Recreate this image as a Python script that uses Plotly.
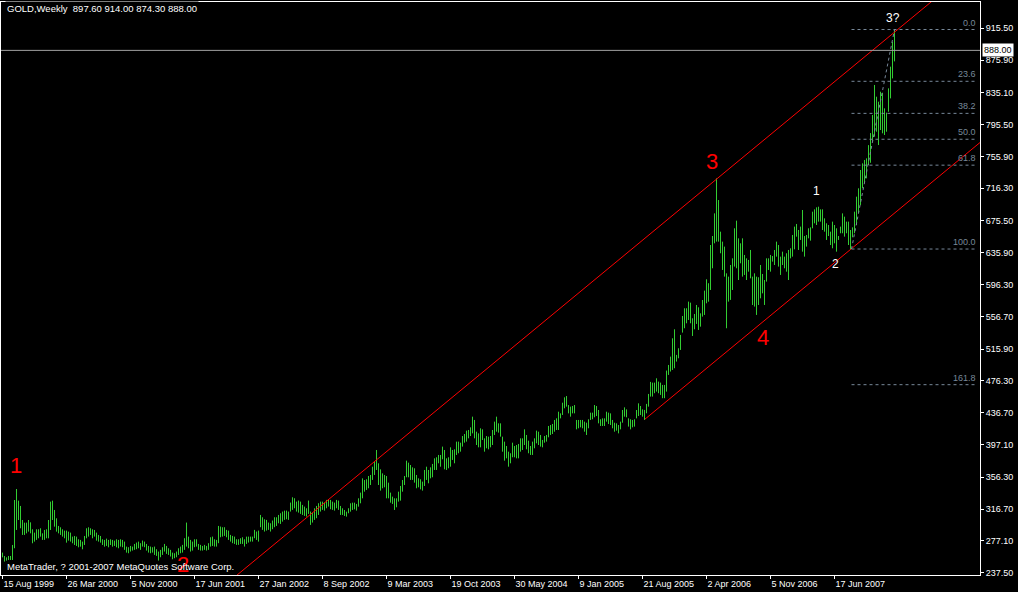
import plotly.graph_objects as go

# ---------------- data (weekly GOLD bars) ----------------
highs = [
    262.5, 258.3, 256.6, 258.3, 258.3, 272.0, 328.0, 341.7, 327.2, 320.6,
    303.1, 299.8, 299.8, 303.1, 300.2, 291.5, 287.4, 291.5, 291.5, 292.8,
    286.5, 290.7, 291.5, 303.1, 326.0, 327.2, 315.6, 305.2, 295.7, 294.0,
    291.5, 289.9, 289.9, 288.6, 287.4, 282.4, 283.2, 282.4, 279.1, 278.3,
    276.2, 283.2, 292.8, 294.0, 292.8, 291.5, 290.7, 287.4, 284.5, 283.2,
    279.1, 278.3, 279.9, 278.3, 279.1, 278.3, 277.4, 279.1,
    278.3, 279.1, 278.3, 276.2, 270.0, 269.2, 270.8, 270.0, 273.3, 275.0,
    276.2, 274.2, 277.5, 276.2, 273.3, 270.8, 270.0, 269.2, 270.0, 266.7,
    263.8, 265.9, 269.2, 273.3, 270.8, 267.9, 265.9, 262.5, 261.7, 263.8,
    267.9, 270.0, 272.1, 280.4, 299.9, 282.4, 278.3, 276.2, 279.1, 279.1,
    273.3, 272.1, 270.8, 272.1, 270.8, 274.2, 281.6, 282.4, 279.1, 278.3,
    295.7, 294.9, 294.1, 294.1, 290.8, 289.9, 284.5, 283.3, 282.4, 279.1,
    279.1, 280.4, 281.6, 279.1, 282.4, 282.4, 282.4, 282.4, 290.8, 288.7,
    289.9, 309.4, 306.5, 304.0, 303.2, 299.9, 299.0, 302.4, 306.5, 306.5,
    309.4, 311.5, 313.6, 314.8, 314.8, 313.6, 324.8, 331.4, 330.2, 326.0,
    327.3, 326.0, 321.9, 319.8, 317.7, 327.3, 313.6, 312.3, 317.7, 320.6,
    324.0, 326.0, 326.0, 324.8, 328.1, 328.9, 328.1, 326.0, 324.8, 328.1,
    327.3,
    320.6, 317.7, 315.6, 313.5, 317.7, 323.9, 324.7, 324.7, 323.1, 330.1,
    337.2, 355.0, 352.9, 353.8, 357.9, 359.2, 369.5, 375.8, 390.3, 373.7,
    366.2, 361.2, 359.2, 357.9, 349.6, 337.2, 332.2, 330.1, 330.1, 338.4,
    345.5, 352.9, 357.9, 377.0, 374.5, 371.6, 368.7, 367.5, 359.2, 355.0,
    353.8, 350.9, 365.4, 369.5, 365.4, 368.7, 372.9, 379.9, 381.2, 384.1,
    384.1, 394.5, 390.3, 379.9, 381.2, 393.6, 390.3, 391.1, 400.7, 400.7,
    399.4, 407.7, 410.2, 414.4, 415.2, 418.5, 431.8, 427.7, 413.1, 411.0,
    417.3, 416.0, 404.8, 407.7, 406.9, 407.7, 415.2, 425.6, 431.8, 423.5,
    423.5, 406.9, 400.7, 395.3, 388.2, 386.2, 399.4, 395.3, 396.5, 397.8,
    404.8, 404.8, 416.0, 409.0, 401.9, 395.3, 400.7, 404.8, 414.4, 413.1,
    409.0, 402.8, 407.7, 409.0, 420.2, 421.4, 422.7, 427.7, 429.7, 438.0,
    435.9, 449.2, 455.9, 457.5, 446.3, 444.3, 445.1, 446.3, 427.7, 427.7,
    427.7, 427.7, 425.6, 424.3, 428.5, 436.8, 436.8, 446.3, 445.1, 440.1,
    428.5, 429.7, 429.7, 438.0, 436.8, 435.9, 427.7, 424.3, 423.5, 421.4,
    425.6, 440.1, 443.4, 440.9, 429.7, 428.5, 427.7, 428.5, 440.1, 448.4,
    445.1, 440.9,
    440.2, 447.7, 460.1, 475.1, 474.2, 474.2, 479.6, 475.5, 474.2, 471.3,
    471.3, 489.2, 496.2, 506.6, 529.4, 540.6, 508.7, 517.0, 533.6, 557.2,
    566.8, 566.8, 575.1, 573.8, 554.3, 559.7, 570.9, 568.0, 560.5, 577.1,
    588.8, 602.9,
    598.0, 645.6, 656.8, 685.0, 728.6, 701.6, 662.2, 649.8, 643.6, 610.3,
    606.2, 620.7, 629.0, 666.4, 675.9, 653.9, 647.7, 653.9, 633.2, 629.0,
    627.0, 639.4, 606.2, 610.3, 606.2, 605.4, 620.7, 609.5, 602.0, 629.0,
    629.0, 633.2, 631.9, 639.4, 649.8, 645.6, 631.1, 637.3, 631.1, 635.3,
    639.4, 641.5, 658.1, 668.5, 671.8, 664.3, 668.5, 689.2, 656.8, 658.1,
    666.4, 667.6, 687.1, 690.0, 692.5, 693.3, 690.0, 690.0, 678.8, 672.6,
    670.5, 662.2, 674.7, 670.5, 666.4, 656.8, 668.5, 685.0, 680.9, 674.7,
    674.7, 664.3, 667.6, 687.1, 705.8, 716.2, 739.0, 747.3, 751.5, 753.5,
    770.0, 785.0,
    807.5, 844.9, 830.3, 824.1, 836.5, 835.3, 815.8, 810.4, 840.7, 867.7,
    898.8, 914.0,
]
lows = [
    256.6, 251.3, 252.5, 253.3, 253.3, 253.3, 267.9, 290.7, 303.1, 292.8,
    284.5, 284.5, 286.5, 288.6, 286.5, 274.1, 276.2, 278.3, 280.3, 282.4,
    278.3, 278.3, 280.3, 280.3, 290.7, 303.1, 294.8, 288.6, 286.5, 284.5,
    282.4, 280.3, 274.9, 277.4, 276.2, 274.1, 272.0, 270.8, 269.1, 269.9,
    266.6, 272.0, 280.3, 282.4, 284.5, 280.3, 282.4, 277.4, 276.2, 274.9,
    272.0, 269.9, 270.8, 269.1, 272.0, 269.9, 270.8, 269.1,
    267.9, 270.0, 269.2, 265.9, 262.5, 261.7, 263.8, 265.0, 265.9, 266.7,
    267.9, 265.9, 270.0, 269.2, 265.0, 262.5, 261.7, 262.5, 259.6, 258.4,
    252.6, 256.7, 259.6, 263.8, 260.9, 259.6, 257.6, 254.2, 255.5, 256.7,
    259.6, 261.7, 262.5, 265.9, 270.0, 267.9, 263.8, 265.0, 269.2, 270.0,
    265.9, 265.0, 265.0, 265.9, 265.0, 265.9, 270.0, 270.8, 270.0, 270.0,
    274.2, 281.6, 282.4, 283.3, 281.6, 278.3, 276.2, 274.2, 273.3, 272.1,
    272.1, 273.3, 273.3, 270.0, 273.3, 275.0, 276.2, 276.2, 280.4, 278.3,
    276.2, 294.1, 290.8, 288.7, 289.9, 290.8, 288.7, 291.6, 294.1, 295.7,
    299.0, 298.2, 301.1, 303.2, 304.0, 303.2, 313.6, 315.7, 317.7, 313.6,
    312.3, 310.7, 309.4, 308.2, 307.4, 310.7, 297.0, 299.9, 303.2, 305.3,
    309.4, 313.6, 315.7, 314.8, 317.7, 319.8, 316.5, 315.7, 314.8, 317.7,
    315.7,
    309.4, 309.4, 308.1, 307.3, 311.5, 313.5, 315.6, 316.4, 314.8, 319.7,
    323.9, 330.1, 338.4, 340.5, 342.6, 346.7, 353.0, 359.2, 365.4, 346.7,
    339.7, 342.6, 343.8, 330.1, 330.1, 324.7, 323.1, 315.6, 318.9, 326.0,
    327.2, 338.4, 346.7, 356.3, 356.3, 353.0, 353.0, 349.6, 342.6, 343.8,
    341.3, 339.7, 345.5, 353.0, 348.8, 355.0, 356.3, 365.4, 365.4, 373.7,
    369.5, 378.7, 366.2, 365.4, 367.5, 369.5, 377.9, 373.7, 384.1, 386.2,
    388.2, 394.5, 399.4, 400.7, 404.8, 407.7, 411.0, 404.8, 396.5, 393.6,
    393.6, 402.7, 388.2, 392.4, 391.1, 393.6, 396.5, 409.0, 413.1, 411.9,
    406.9, 388.2, 377.0, 379.9, 369.5, 373.7, 381.2, 381.2, 379.9, 379.9,
    388.2, 390.3, 396.5, 391.1, 386.2, 384.1, 384.1, 392.4, 398.6, 396.5,
    394.5, 393.6, 399.4, 400.7, 406.1, 409.0, 410.2, 413.1, 415.2, 415.2,
    429.7, 433.9, 442.2, 444.3, 435.9, 431.8, 435.9, 435.9, 416.0, 417.3,
    418.5, 417.3, 413.1, 409.0, 417.3, 427.7, 428.5, 431.0, 432.6, 423.5,
    420.2, 420.2, 420.2, 425.6, 422.7, 421.4, 417.3, 413.1, 414.4, 411.0,
    416.0, 424.3, 431.8, 431.0, 419.4, 416.0, 418.5, 419.4, 429.7, 432.6,
    433.9, 431.8,
    427.7, 436.0, 444.3, 456.8, 456.8, 461.0, 463.0, 461.0, 458.9, 454.8,
    454.8, 463.0, 483.8, 488.0, 490.0, 492.1, 500.4, 504.5, 514.9, 536.5,
    541.9, 548.1, 552.2, 548.1, 532.3, 540.6, 547.3, 539.8, 543.9, 556.4,
    558.5, 573.0,
    575.0, 589.6, 616.6, 647.7, 649.8, 649.8, 635.3, 614.5, 606.2, 541.9,
    575.1, 577.2, 589.6, 618.7, 616.6, 602.0, 622.8, 606.2, 608.3, 602.0,
    612.4, 604.1, 570.9, 568.9, 558.5, 570.9, 579.2, 585.4, 570.9, 600.0,
    614.5, 612.4, 624.9, 620.7, 631.1, 618.7, 608.3, 620.7, 616.6, 612.4,
    602.0, 629.0, 631.1, 640.2, 656.0, 639.4, 651.9, 637.3, 631.1, 643.6,
    653.9, 651.0, 666.4, 672.6, 670.5, 674.7, 674.7, 664.3, 662.2, 651.9,
    656.8, 645.6, 641.5, 647.7, 637.3, 651.9, 660.2, 660.2, 656.0, 660.2,
    645.6, 640.2, 655.2, 660.2, 670.5, 685.0, 695.4, 716.2, 722.4, 728.6,
    745.2, 748.0,
    774.3, 780.5, 786.7, 770.1, 788.8, 784.7, 782.6, 786.7, 811.6, 828.2,
    853.1, 874.3,
]

date_labels = ["15 Aug 1999", "26 Mar 2000", "5 Nov 2000", "17 Jun 2001",
               "27 Jan 2002", "8 Sep 2002", "9 Mar 2003", "19 Oct 2003",
               "30 May 2004", "9 Jan 2005", "21 Aug 2005", "2 Apr 2006",
               "5 Nov 2006", "17 Jun 2007"]
bars_per_label = 32

price_ticks = [237.5, 277.1, 316.7, 356.3, 397.1, 436.7, 476.3, 515.9, 556.7,
               596.3, 635.9, 675.5, 716.3, 755.9, 795.5, 835.1, 875.9, 915.5]

last_ohlc = [897.60, 914.00, 874.30, 888.00]

# channel (equidistant) anchors: (bar index, price)
channel_upper = [(100.0, 199.0), (490.0, 1001.2)]
channel_lower = [(321.2, 428.6), (490.0, 775.8)]

# fibonacci retracement
fib_high = 914.0
fib_low = 640.6
fib_start_bar = 424.5
fib_high_bar = 446.0
fib_end_bar = 487.5
fib_levels = [0.0, 23.6, 38.2, 50.0, 61.8, 100.0, 161.8]

# wave labels: (text, bar index, price)
big_labels = [("1", 6.5, 371.6), ("2", 90.0, 247.1), ("3", 354.5, 750.2), ("4", 380.0, 529.8)]
small_labels = [("1", 407.0, 712.9), ("2", 416.5, 622.0), ("3?", 445.0, 928.3)]

# ---------------- figure ----------------
assert len(highs) == len(lows)
n = len(highs)
FONT = "Liberation Sans, Arial, sans-serif"

xs, ys = [], []
for i in range(n):
    xs += [i, i, None]
    ys += [lows[i], highs[i], None]

fig = go.Figure()

fig.add_trace(go.Scatter(x=xs, y=ys, mode="lines",
                         line=dict(color="#32cd32", width=1),
                         hoverinfo="skip", showlegend=False))

# channel lines
for seg in (channel_upper, channel_lower):
    fig.add_trace(go.Scatter(x=[seg[0][0], seg[1][0]], y=[seg[0][1], seg[1][1]],
                             mode="lines", line=dict(color="#ff0000", width=1),
                             hoverinfo="skip", showlegend=False))

# fib lines
fib_color = "#778899"
for lv in fib_levels:
    p = fib_high - lv / 100.0 * (fib_high - fib_low)
    fig.add_trace(go.Scatter(x=[fib_start_bar, fib_end_bar], y=[p, p], mode="lines",
                             line=dict(color=fib_color, width=1, dash="3px,3px"),
                             hoverinfo="skip", showlegend=False))
    fig.add_annotation(x=fib_end_bar, y=p, xref="x", yref="y", text=f"{lv:.1f}",
                       showarrow=False, xanchor="right", yanchor="bottom",
                       font=dict(family=FONT, size=9, color=fib_color))
fig.add_trace(go.Scatter(x=[fib_start_bar, fib_high_bar], y=[fib_low, fib_high], mode="lines",
                         line=dict(color=fib_color, width=1, dash="3px,3px"),
                         hoverinfo="skip", showlegend=False))

# current price line
fig.add_shape(type="line", xref="paper", x0=0, x1=1, yref="y", y0=last_ohlc[3], y1=last_ohlc[3],
              line=dict(color="#a0a0a0", width=1))
fig.add_annotation(xref="paper", x=1, y=last_ohlc[3], yref="y", text=f"{last_ohlc[3]:.2f}",
                   showarrow=False, xanchor="left", xshift=2, bgcolor="#ffffff",
                   font=dict(family=FONT, size=9, color="#000000"), borderpad=1)

for t, bx, py in big_labels:
    fig.add_annotation(x=bx, y=py, text=t, showarrow=False,
                       font=dict(family=FONT, size=22, color="#ff0000"))
for t, bx, py in small_labels:
    fig.add_annotation(x=bx, y=py, text=t, showarrow=False,
                       font=dict(family=FONT, size=12, color="#ffffff"))

fig.add_annotation(xref="paper", yref="paper", x=0, y=1, xanchor="left", yanchor="top",
                   xshift=4, yshift=1,
                   text="GOLD,Weekly  " + " ".join(f"{v:.2f}" for v in last_ohlc),
                   showarrow=False, bgcolor="#000000",
                   font=dict(family=FONT, size=9.5, color="#ffffff"))
fig.add_annotation(xref="paper", yref="paper", x=0, y=0, xanchor="left", yanchor="bottom",
                   xshift=4, yshift=1,
                   text="MetaTrader, ? 2001-2007 MetaQuotes Software Corp.",
                   showarrow=False,
                   font=dict(family=FONT, size=9.5, color="#ffffff"))

fig.update_layout(
    width=1018, height=592,
    margin=dict(l=1, r=38, t=2, b=17, pad=0),
    paper_bgcolor="#000000", plot_bgcolor="#000000",
    showlegend=False,
    xaxis=dict(range=[-0.75, 488.75], showgrid=False, zeroline=False,
               tickvals=[k * bars_per_label for k in range(len(date_labels))],
               ticktext=date_labels, ticks="outside", ticklen=3, tickcolor="#ffffff",
               ticklabelposition="outside right",
               tickfont=dict(family=FONT, size=9, color="#ffffff"),
               showline=True, linecolor="#ffffff", linewidth=1, mirror=True),
    yaxis=dict(range=[234.6, 948.25], side="right", showgrid=False, zeroline=False,
               tickvals=price_ticks, ticktext=[f"{v:.2f}" for v in price_ticks],
               ticks="outside", ticklen=3, tickcolor="#ffffff",
               tickfont=dict(family=FONT, size=9, color="#ffffff"),
               showline=True, linecolor="#ffffff", linewidth=1, mirror=True),
)

fig.write_html("out.html", config={"displayModeBar": False},
               post_script="document.body.style.margin='0';document.body.style.background='#000';")
